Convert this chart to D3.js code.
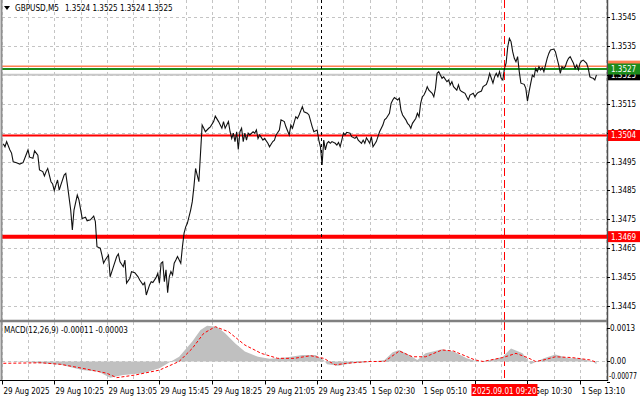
<!DOCTYPE html>
<html><head><meta charset="utf-8">
<script src="https://cdn.jsdelivr.net/npm/d3@7"></script>
<style>html,body{margin:0;padding:0;background:#fff;overflow:hidden}</style>
</head><body><svg id="c" width="640" height="401"></svg>
<script>
// ---------- DATA ----------
const symbolName = "GBPUSD,M5";
const symbolOHLC = "1.3524 1.3525 1.3524 1.3525";
const macdTitle = "MACD(12,26,9) -0.00011 -0.00003";

// M5 bar index (0 = 29 Aug 07:45) and close price
const priceBars = [1,2,3,5,6,7,9,11,13,16,17,19,20,22,23,25,26,27,28,30,31,32,33,34,35,36,38,39,40,42,43,44,46,47,49,51,52,54,56,57,58,60,61,62,63,65,66,68,70,71,72,74,75,76,78,79,81,83,84,86,87,88,90,91,92,94,95,96,97,98,99,100,101,102,103,104,105,106,107,109,110,111,112,113,115,116,117,118,119,120,121,122,123,124,126,127,129,130,132,134,135,136,138,139,140,141,142,143,144,145,146,147,148,149,150,151,153,154,155,156,157,159,160,162,163,165,166,167,169,170,172,173,175,176,177,179,180,181,183,184,186,187,189,190,192,193,194,195,196,197,198,199,200,201,203,204,205,206,207,208,209,210,212,213,215,216,217,219,220,221,222,224,225,226,228,229,230,232,233,234,236,237,238,239,241,242,243,244,246,247,248,249,250,252,253,254,255,256,257,258,259,260,262,263,264,265,266,267,268,269,271,272,273,274,275,277,278,279,280,282,283,284,285,287,288,289,290,292,293,295,296,297,298,299,300,301,302,303,304,305,306,307,308,309,310,311,312,313,314,315,316,318,319,320,321,322,323,324,325,326,327,328,329,330,331,332,333,334,336,337,338,339,340,341,342,343,344,345,346,347,348,349,350,351,352,353,354,356,357,358,359,360,361,362];
const priceClose = [1.35011,1.35001,1.35019,1.34990,1.34979,1.34949,1.34946,1.34941,1.34946,1.34990,1.34965,1.34961,1.34987,1.34972,1.34921,1.34915,1.34900,1.34915,1.34926,1.34880,1.34872,1.34849,1.34869,1.34886,1.34851,1.34869,1.34903,1.34909,1.34869,1.34782,1.34713,1.34782,1.34834,1.34817,1.34753,1.34757,1.34745,1.34748,1.34761,1.34742,1.34655,1.34650,1.34626,1.34598,1.34609,1.34626,1.34551,1.34586,1.34621,1.34630,1.34603,1.34586,1.34609,1.34529,1.34546,1.34569,1.34565,1.34551,1.34540,1.34523,1.34531,1.34488,1.34523,1.34534,1.34531,1.34549,1.34563,1.34529,1.34598,1.34603,1.34534,1.34575,1.34496,1.34551,1.34569,1.34557,1.34598,1.34609,1.34621,1.34598,1.34655,1.34702,1.34724,1.34736,1.34782,1.34811,1.34863,1.34926,1.34903,1.34880,1.34978,1.35076,1.35065,1.35053,1.35065,1.35070,1.35088,1.35107,1.35088,1.35065,1.35088,1.35065,1.35088,1.35053,1.35030,1.35048,1.35019,1.35053,1.34992,1.35053,1.35065,1.35019,1.35048,1.35024,1.35048,1.35042,1.35053,1.35048,1.35059,1.35030,1.35042,1.35024,1.35030,1.35013,1.35001,1.35019,1.35024,1.35042,1.35059,1.35094,1.35088,1.35070,1.35042,1.35076,1.35065,1.35105,1.35099,1.35111,1.35140,1.35122,1.35117,1.35111,1.35070,1.35053,1.35059,1.35024,1.35001,1.34938,1.35024,1.34990,1.35013,1.35019,1.35013,1.35019,1.35013,1.35007,1.35016,1.35001,1.35024,1.35048,1.35042,1.35051,1.35048,1.35036,1.35030,1.35036,1.35024,1.35013,1.35024,1.35013,1.35032,1.35013,1.35036,1.35001,1.35019,1.35036,1.35053,1.35076,1.35094,1.35099,1.35117,1.35151,1.35163,1.35171,1.35163,1.35169,1.35128,1.35111,1.35094,1.35082,1.35076,1.35065,1.35082,1.35099,1.35117,1.35105,1.35151,1.35174,1.35180,1.35192,1.35209,1.35197,1.35186,1.35174,1.35203,1.35255,1.35261,1.35249,1.35238,1.35243,1.35226,1.35232,1.35215,1.35226,1.35209,1.35197,1.35215,1.35197,1.35192,1.35186,1.35174,1.35163,1.35180,1.35186,1.35174,1.35183,1.35189,1.35194,1.35209,1.35217,1.35232,1.35255,1.35238,1.35221,1.35243,1.35255,1.35243,1.35261,1.35238,1.35232,1.35272,1.35290,1.35347,1.35376,1.35365,1.35330,1.35307,1.35295,1.35313,1.35261,1.35221,1.35217,1.35203,1.35159,1.35192,1.35221,1.35249,1.35243,1.35272,1.35261,1.35278,1.35267,1.35275,1.35261,1.35284,1.35307,1.35324,1.35336,1.35339,1.35330,1.35307,1.35284,1.35255,1.35278,1.35272,1.35278,1.35295,1.35307,1.35313,1.35301,1.35290,1.35272,1.35284,1.35267,1.35290,1.35298,1.35301,1.35290,1.35272,1.35243,1.35240,1.35238,1.35232,1.35250];

// MACD main (histogram) and signal
const macdBars = [0,14,24,36,49,59,66,74,86,96,103,108,116,121,125,131,136,142,148,156,163,173,183,191,196,198,205,213,223,233,238,242,248,253,258,268,275,283,290,298,305,310,317,322,330,337,345,352,360,362];
const macdMain = [0.00000,-0.00002,-0.00007,-0.00013,-0.00033,-0.00039,-0.00062,-0.00052,-0.00045,-0.00026,0.00000,0.00018,0.00076,0.00120,0.00137,0.00133,0.00108,0.00070,0.00038,0.00018,0.00010,0.00015,0.00025,0.00025,0.00006,-0.00011,-0.00016,-0.00007,-0.00003,0.00006,0.00035,0.00044,0.00025,0.00006,0.00031,0.00047,0.00038,0.00012,-0.00001,0.00006,0.00018,0.00050,0.00031,-0.00011,0.00012,0.00027,0.00012,0.00012,-0.00001,-0.00011];
const signalBars = [1,24,36,49,64,70,81,96,108,116,123,130,138,148,158,168,178,188,196,203,210,223,233,242,250,258,268,275,288,293,305,313,320,325,330,337,347,358,362];
const signalVals = [-0.00007,-0.00005,-0.00011,-0.00026,-0.00045,-0.00062,-0.00052,-0.00033,0.00000,0.00050,0.00108,0.00133,0.00114,0.00063,0.00031,0.00012,0.00012,0.00022,0.00012,-0.00013,-0.00007,0.00000,0.00000,0.00040,0.00018,0.00018,0.00044,0.00040,0.00006,0.00000,0.00015,0.00031,0.00015,0.00000,0.00006,0.00018,0.00015,0.00006,-0.00003];

const priceTicks = [1.3445,1.3455,1.3465,1.3475,1.3485,1.3495,1.3505,1.3515,1.3525,1.3535,1.3545];
const hiddenPriceTicks = [1.3525];           // covered by the last-price box
const macdTicks = [0.0013, 0.00, -0.00077];
const macdTickLabels = ["0.0013", "0.00", "-0.00077"];
const timeTickBars = [0,32,64,96,128,160,192,224,256,288,320,352];
const timeTickLabels = ["29 Aug 2025","29 Aug 10:25","29 Aug 13:05","29 Aug 15:45","29 Aug 18:25","29 Aug 21:05","29 Aug 23:45","1 Sep 02:30","1 Sep 05:10","","1 Sep 10:30","1 Sep 13:10"];

const resistanceLevel = 1.3504;
const supportLevel = 1.3469;
const targetLevel = 1.3528;   // orange
const greenLevel = 1.3527;    // green
const bidLevel = 1.3525;      // last price
const sessionBreakBar = 194.5;
const entryBar = 306;
const entryLabel = "2025.09.01 09:20";

// ---------- LAYOUT ----------
const W = 640, H = 401;
const axisX = 607;
const pTop = 0, pBot = 320, mTop = 322, mBot = 380.5;
const FONT = "'DejaVu Sans Condensed','DejaVu Sans',sans-serif";
const FS = 8;

const svg = d3.select("#c");
const x = d3.scaleLinear().domain([0, 352]).range([1.7, 1.7 + 352 * 1.643]);
const y = d3.scaleLinear().domain([1.3445, 1.3545]).range([306, 17]);
const ym = d3.scaleLinear().domain([-0.00077, 0.0013]).range([381.6, 327.5]);

const defs = svg.append("defs");
defs.append("clipPath").attr("id","cp").append("rect").attr("x",2).attr("y",pTop).attr("width",axisX-2).attr("height",pBot-pTop);
defs.append("clipPath").attr("id","cm").append("rect").attr("x",2).attr("y",mTop).attr("width",axisX-2).attr("height",mBot-mTop);

svg.append("rect").attr("width",W).attr("height",H).attr("fill","#fff");

const gridColor = "#c4c4c4";
const gridBars = d3.range(0, 372, 16);
[[pTop,pBot],[mTop,mBot]].forEach(([a,b])=>{
  svg.append("g").selectAll("line").data(gridBars).join("line")
    .attr("x1",d=>Math.round(x(d))+0.5).attr("x2",d=>Math.round(x(d))+0.5)
    .attr("y1",a).attr("y2",b)
    .attr("stroke",gridColor).attr("stroke-width",1).attr("stroke-dasharray","3,3");
});
svg.append("g").selectAll("line").data(priceTicks).join("line")
  .attr("x1",2).attr("x2",axisX)
  .attr("y1",d=>Math.round(y(d))+0.5).attr("y2",d=>Math.round(y(d))+0.5)
  .attr("stroke",gridColor).attr("stroke-width",1).attr("stroke-dasharray","3,3");
svg.append("line").attr("x1",2).attr("x2",axisX)
  .attr("y1",Math.round(ym(0))+0.5).attr("y2",Math.round(ym(0))+0.5)
  .attr("stroke",gridColor).attr("stroke-dasharray","3,3");

// level lines
const gp = svg.append("g").attr("clip-path","url(#cp)");
gp.append("line").attr("x1",2).attr("x2",axisX).attr("y1",y(bidLevel)).attr("y2",y(bidLevel)).attr("stroke","#c8c8c8").attr("stroke-width",2);
gp.append("line").attr("x1",2).attr("x2",axisX).attr("y1",y(targetLevel)).attr("y2",y(targetLevel)).attr("stroke","#ff7f50").attr("stroke-width",1.5);
gp.append("line").attr("x1",2).attr("x2",axisX).attr("y1",y(greenLevel)).attr("y2",y(greenLevel)).attr("stroke","#1c8c1c").attr("stroke-width",2);
gp.append("line").attr("x1",2).attr("x2",axisX).attr("y1",y(resistanceLevel)).attr("y2",y(resistanceLevel)).attr("stroke","#ff0000").attr("stroke-width",2);
gp.append("line").attr("x1",2).attr("x2",axisX).attr("y1",y(supportLevel)).attr("y2",y(supportLevel)).attr("stroke","#ff0000").attr("stroke-width",4);

// vertical separators
[[pTop,pBot],[mTop,mBot]].forEach(([a,b])=>{
  svg.append("line").attr("x1",Math.round(x(sessionBreakBar))+0.5).attr("x2",Math.round(x(sessionBreakBar))+0.5)
    .attr("y1",a).attr("y2",b).attr("stroke","#000").attr("stroke-dasharray","3,3");
  svg.append("line").attr("x1",Math.round(x(entryBar))+0.5).attr("x2",Math.round(x(entryBar))+0.5)
    .attr("y1",a).attr("y2",b).attr("stroke","#ff0000").attr("stroke-dasharray","8,4");
});

// price line
const priceData = priceBars.map((b,i)=>({b, v: priceClose[i]}));
gp.append("path").datum(priceData)
  .attr("d", d3.line().x(d=>x(d.b)).y(d=>y(d.v)))
  .attr("fill","none").attr("stroke","#111").attr("stroke-width",1.1);

// MACD
const gm = svg.append("g").attr("clip-path","url(#cm)");
const macdData = macdBars.map((b,i)=>({b, v: macdMain[i]}));
gm.append("path").datum(macdData)
  .attr("d", d3.area().x(d=>x(d.b)).y0(ym(0)).y1(d=>ym(d.v)))
  .attr("fill","#c0c0c0");
const sigData = signalBars.map((b,i)=>({b, v: signalVals[i]}));
gm.append("path").datum(sigData)
  .attr("d", d3.line().x(d=>x(d.b)).y(d=>ym(d.v)))
  .attr("fill","none").attr("stroke","#ff0000").attr("stroke-width",1).attr("stroke-dasharray","3,2");

// frame
svg.append("line").attr("x1",1.5).attr("x2",1.5).attr("y1",0).attr("y2",mBot).attr("stroke","#909090").attr("stroke-width",2);
svg.append("line").attr("x1",axisX+0.5).attr("x2",axisX+0.5).attr("y1",0).attr("y2",mBot+0.5).attr("stroke","#505050").attr("stroke-width",1.5);
svg.append("line").attr("x1",0).attr("x2",axisX).attr("y1",pBot+1).attr("y2",pBot+1).attr("stroke","#808080").attr("stroke-width",2.5);
svg.append("line").attr("x1",0).attr("x2",axisX+1).attr("y1",mBot).attr("y2",mBot).attr("stroke","#000").attr("stroke-width",1);

// right price axis
const ay = svg.append("g").attr("font-family",FONT).attr("font-size",FS);
priceTicks.forEach(t=>{
  const yy = y(t);
  ay.append("line").attr("x1",axisX).attr("x2",axisX+3).attr("y1",Math.round(yy)+0.5).attr("y2",Math.round(yy)+0.5).attr("stroke","#000");
  if (!hiddenPriceTicks.includes(t))
    ay.append("text").attr("x",axisX+4).attr("y",yy+3).attr("fill","#000").text(t.toFixed(4));
});
macdTicks.forEach((t,i)=>{
  const yy = Math.min(ym(t), 376);
  ay.append("line").attr("x1",axisX).attr("x2",axisX+3).attr("y1",Math.round(ym(t))+0.5).attr("y2",Math.round(ym(t))+0.5).attr("stroke","#000");
  const tx = ay.append("text").attr("x",axisX+3).attr("y",yy+3).attr("fill","#000").text(macdTickLabels[i]);
  if (macdTickLabels[i].length > 6) tx.attr("x",axisX+2).attr("textLength", 28).attr("lengthAdjust","spacingAndGlyphs");
});

function priceBox(v, fill, txtColor, showText) {
  const yy = y(v);
  ay.append("rect").attr("x",axisX+1).attr("y",yy-5.5).attr("width",W-axisX-1).attr("height",11).attr("fill",fill);
  if (showText) ay.append("text").attr("x",axisX+4).attr("y",yy+3).attr("fill",txtColor).text(v.toFixed(4));
}
priceBox(targetLevel, "#ff7f50", "#fff", false);
priceBox(bidLevel, "#000", "#fff", true);
priceBox(greenLevel, "#1c8c1c", "#fff", true);
priceBox(resistanceLevel, "#ff0000", "#fff", true);
priceBox(supportLevel, "#ff0000", "#fff", true);

// time axis
const ax = svg.append("g").attr("font-family",FONT).attr("font-size",FS);
timeTickBars.forEach((b,i)=>{
  const xx = Math.round(x(b))+0.5;
  ax.append("line").attr("x1",xx).attr("x2",xx).attr("y1",mBot).attr("y2",mBot+4).attr("stroke","#000");
  if (timeTickLabels[i]) ax.append("text").attr("x",xx+1).attr("y",394).attr("fill","#000").text(timeTickLabels[i]);
});
const ex = x(entryBar);
ax.append("rect").attr("x",ex-33).attr("y",384).attr("width",66).attr("height",12).attr("fill","#ff0000");
ax.append("text").attr("x",ex).attr("y",394).attr("text-anchor","middle").attr("fill","#fff").text(entryLabel);

// titles
svg.append("path").attr("d","M4,6 L10,6 L7,10 Z").attr("fill","#000");
const tt = svg.append("text").attr("y",11).attr("font-family",FONT).attr("font-size",FS).attr("fill","#000");
tt.append("tspan").attr("x",15).attr("textLength",44).attr("lengthAdjust","spacingAndGlyphs").text(symbolName);
tt.append("tspan").attr("x",65).text(symbolOHLC);
svg.append("text").attr("x",4).attr("y",333).attr("font-family",FONT).attr("font-size",FS).attr("fill","#000").text(macdTitle);
</script></body></html>
